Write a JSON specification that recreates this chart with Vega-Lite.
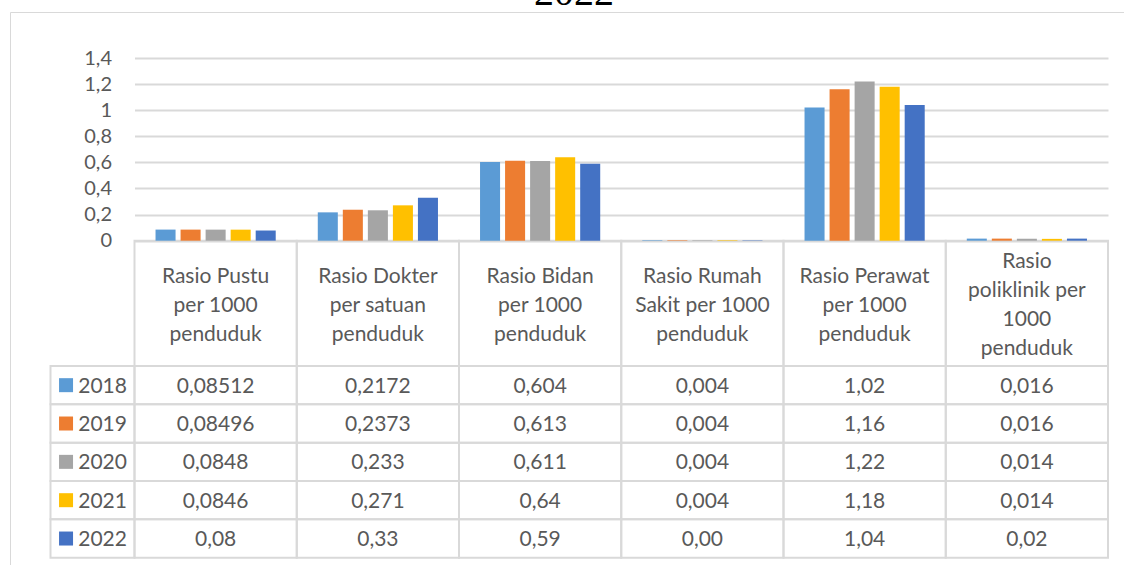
{
  "$schema": "https://vega.github.io/schema/vega-lite/v6.json",
  "autosize": {"type": "none"},
  "padding": {"left": 10, "top": 12, "right": 0, "bottom": 0},
  "width": 1114,
  "height": 553,
  "background": "white",
  "title": {"text": "2022", "font": "Liberation Serif", "fontSize": 40, "fontWeight": "normal", "color": "#000000", "anchor": "middle", "offset": 0, "dx": 7, "dy": 1},
  "config": {
    "view": {"stroke": "#d9d9d9", "strokeWidth": 1, "strokeDash": [1114, 1667, 553, 0]},
    "font": "Lato"
  },
  "datasets": {
    "nilai": [
      {"kategori": "Pustu", "tahun": "2018", "nilai": 0.08512, "label": "0,08512"},
      {"kategori": "Pustu", "tahun": "2019", "nilai": 0.08496, "label": "0,08496"},
      {"kategori": "Pustu", "tahun": "2020", "nilai": 0.0848, "label": "0,0848"},
      {"kategori": "Pustu", "tahun": "2021", "nilai": 0.0846, "label": "0,0846"},
      {"kategori": "Pustu", "tahun": "2022", "nilai": 0.078, "label": "0,08"},
      {"kategori": "Dokter", "tahun": "2018", "nilai": 0.2172, "label": "0,2172"},
      {"kategori": "Dokter", "tahun": "2019", "nilai": 0.2373, "label": "0,2373"},
      {"kategori": "Dokter", "tahun": "2020", "nilai": 0.233, "label": "0,233"},
      {"kategori": "Dokter", "tahun": "2021", "nilai": 0.271, "label": "0,271"},
      {"kategori": "Dokter", "tahun": "2022", "nilai": 0.33, "label": "0,33"},
      {"kategori": "Bidan", "tahun": "2018", "nilai": 0.604, "label": "0,604"},
      {"kategori": "Bidan", "tahun": "2019", "nilai": 0.613, "label": "0,613"},
      {"kategori": "Bidan", "tahun": "2020", "nilai": 0.611, "label": "0,611"},
      {"kategori": "Bidan", "tahun": "2021", "nilai": 0.64, "label": "0,64"},
      {"kategori": "Bidan", "tahun": "2022", "nilai": 0.59, "label": "0,59"},
      {"kategori": "Rumah Sakit", "tahun": "2018", "nilai": 0.004, "label": "0,004"},
      {"kategori": "Rumah Sakit", "tahun": "2019", "nilai": 0.004, "label": "0,004"},
      {"kategori": "Rumah Sakit", "tahun": "2020", "nilai": 0.004, "label": "0,004"},
      {"kategori": "Rumah Sakit", "tahun": "2021", "nilai": 0.004, "label": "0,004"},
      {"kategori": "Rumah Sakit", "tahun": "2022", "nilai": 0.003, "label": "0,00"},
      {"kategori": "Perawat", "tahun": "2018", "nilai": 1.02, "label": "1,02"},
      {"kategori": "Perawat", "tahun": "2019", "nilai": 1.16, "label": "1,16"},
      {"kategori": "Perawat", "tahun": "2020", "nilai": 1.22, "label": "1,22"},
      {"kategori": "Perawat", "tahun": "2021", "nilai": 1.18, "label": "1,18"},
      {"kategori": "Perawat", "tahun": "2022", "nilai": 1.04, "label": "1,04"},
      {"kategori": "Poliklinik", "tahun": "2018", "nilai": 0.016, "label": "0,016"},
      {"kategori": "Poliklinik", "tahun": "2019", "nilai": 0.016, "label": "0,016"},
      {"kategori": "Poliklinik", "tahun": "2020", "nilai": 0.014, "label": "0,014"},
      {"kategori": "Poliklinik", "tahun": "2021", "nilai": 0.014, "label": "0,014"},
      {"kategori": "Poliklinik", "tahun": "2022", "nilai": 0.016, "label": "0,02"}
    ],
    "kategori": [
      {"kategori": "Pustu", "judul": ["Rasio Pustu", "per 1000", "penduduk"]},
      {"kategori": "Dokter", "judul": ["Rasio Dokter", "per satuan", "penduduk"]},
      {"kategori": "Bidan", "judul": ["Rasio Bidan", "per 1000", "penduduk"]},
      {"kategori": "Rumah Sakit", "judul": ["Rasio Rumah", "Sakit per 1000", "penduduk"]},
      {"kategori": "Perawat", "judul": ["Rasio Perawat", "per 1000", "penduduk"]},
      {"kategori": "Poliklinik", "judul": ["Rasio", "poliklinik per", "1000", "penduduk"]}
    ],
    "tahun": [
      {"tahun": "2018"}, {"tahun": "2019"}, {"tahun": "2020"}, {"tahun": "2021"}, {"tahun": "2022"}
    ]
  },
  "resolve": {"scale": {"x": "independent", "y": "independent"}},
  "layer": [
    {
      "data": {"name": "kategori"},
      "mark": {"type": "rect", "filled": false, "stroke": "#d9d9d9", "strokeWidth": 2},
      "encoding": {
        "x": {"field": "kategori", "type": "nominal", "sort": null, "scale": {"domain": ["Pustu", "Dokter", "Bidan", "Rumah Sakit", "Perawat", "Poliklinik"], "range": [124.5, 1098], "paddingInner": 0, "paddingOuter": 0}, "axis": null},
        "y": {"datum": "judul", "type": "nominal", "scale": {"domain": ["judul"], "range": [228.7, 354], "paddingInner": 0, "paddingOuter": 0}, "axis": null}
      }
    },
    {
      "data": {"name": "nilai"},
      "mark": {"type": "rect", "filled": false, "stroke": "#d9d9d9", "strokeWidth": 2},
      "encoding": {
        "x": {"field": "kategori", "type": "nominal", "sort": null, "scale": {"domain": ["Pustu", "Dokter", "Bidan", "Rumah Sakit", "Perawat", "Poliklinik"], "range": [124.5, 1098], "paddingInner": 0, "paddingOuter": 0}, "axis": null},
        "y": {"field": "tahun", "type": "nominal", "scale": {"domain": ["2018", "2019", "2020", "2021", "2022"], "range": [354, 545.7], "paddingInner": 0, "paddingOuter": 0}, "axis": null}
      }
    },
    {
      "data": {"name": "tahun"},
      "mark": {"type": "rect", "filled": false, "stroke": "#d9d9d9", "strokeWidth": 2},
      "encoding": {
        "x": {"datum": "kolom", "type": "nominal", "scale": {"domain": ["kolom"], "range": [40.5, 124.5], "paddingInner": 0, "paddingOuter": 0}, "axis": null},
        "y": {"field": "tahun", "type": "nominal", "scale": {"domain": ["2018", "2019", "2020", "2021", "2022"], "range": [354, 545.7], "paddingInner": 0, "paddingOuter": 0}, "axis": null}
      }
    },
    {
      "data": {"name": "nilai"},
      "mark": {"type": "bar"},
      "encoding": {
        "x": {"field": "kategori", "type": "nominal", "sort": null, "scale": {"domain": ["Pustu", "Dokter", "Bidan", "Rumah Sakit", "Perawat", "Poliklinik"], "range": [124.5, 1098], "paddingInner": 0, "paddingOuter": 0}, "axis": null},
        "xOffset": {"field": "tahun", "type": "nominal", "sort": null, "scale": {"paddingInner": 0.2, "paddingOuter": 0.84}},
        "y": {"field": "nilai", "type": "quantitative", "scale": {"domain": [0, 1.4], "range": [228.7, 46], "nice": false, "zero": true},
          "axis": {"values": [0, 0.2, 0.4, 0.6, 0.8, 1, 1.2, 1.4], "offset": -124.5, "ticks": false, "tickSize": 0, "domain": false, "labelPadding": 23, "grid": true, "gridColor": "#d9d9d9", "gridWidth": 2, "title": null, "labelExpr": "replace(toString(datum.value), '.', ',')", "labelFontSize": 20, "labelColor": "#595959", "labelFont": "Lato"}},
        "color": {"field": "tahun", "type": "nominal", "scale": {"domain": ["2018", "2019", "2020", "2021", "2022"], "range": ["#5B9BD5", "#ED7D31", "#A5A5A5", "#FFC000", "#4472C4"]}, "legend": null}
      }
    },
    {
      "data": {"name": "kategori"},
      "mark": {"type": "text", "lineHeight": 29, "fontSize": 21, "color": "#595959", "align": "center", "baseline": "middle", "font": "Lato", "dy": {"expr": "-(length(datum.judul) - 1) * 14.5 + 2.5"}},
      "encoding": {
        "x": {"field": "kategori", "type": "nominal", "sort": null, "scale": {"domain": ["Pustu", "Dokter", "Bidan", "Rumah Sakit", "Perawat", "Poliklinik"], "range": [124.5, 1098], "paddingInner": 0, "paddingOuter": 0}, "axis": null},
        "y": {"datum": "judul", "type": "nominal", "scale": {"domain": ["judul"], "range": [228.7, 354], "paddingInner": 0, "paddingOuter": 0}, "axis": null},
        "text": {"field": "judul", "type": "nominal"}
      }
    },
    {
      "data": {"name": "nilai"},
      "mark": {"type": "text", "fontSize": 21, "color": "#595959", "align": "center", "baseline": "middle", "font": "Lato", "dy": 1.5},
      "encoding": {
        "x": {"field": "kategori", "type": "nominal", "sort": null, "scale": {"domain": ["Pustu", "Dokter", "Bidan", "Rumah Sakit", "Perawat", "Poliklinik"], "range": [124.5, 1098], "paddingInner": 0, "paddingOuter": 0}, "axis": null},
        "y": {"field": "tahun", "type": "nominal", "scale": {"domain": ["2018", "2019", "2020", "2021", "2022"], "range": [354, 545.7], "paddingInner": 0, "paddingOuter": 0}, "axis": null},
        "text": {"field": "label", "type": "nominal"}
      }
    },
    {
      "data": {"name": "tahun"},
      "mark": {"type": "square", "size": 196, "filled": true, "opacity": 1},
      "encoding": {
        "x": {"datum": 0.185, "type": "quantitative", "scale": {"domain": [0, 1], "range": [40.5, 124.5], "nice": false, "zero": false}, "axis": null},
        "y": {"field": "tahun", "type": "nominal", "scale": {"domain": ["2018", "2019", "2020", "2021", "2022"], "range": [354, 545.7], "paddingInner": 0, "paddingOuter": 0}, "axis": null},
        "color": {"field": "tahun", "type": "nominal", "legend": null}
      }
    },
    {
      "data": {"name": "tahun"},
      "mark": {"type": "text", "fontSize": 21, "color": "#595959", "align": "left", "baseline": "middle", "font": "Lato", "dy": 1.5},
      "encoding": {
        "x": {"datum": 0.33, "type": "quantitative", "scale": {"domain": [0, 1], "range": [40.5, 124.5], "nice": false, "zero": false}, "axis": null},
        "y": {"field": "tahun", "type": "nominal", "scale": {"domain": ["2018", "2019", "2020", "2021", "2022"], "range": [354, 545.7], "paddingInner": 0, "paddingOuter": 0}, "axis": null},
        "text": {"field": "tahun", "type": "nominal"}
      }
    }
  ]
}
